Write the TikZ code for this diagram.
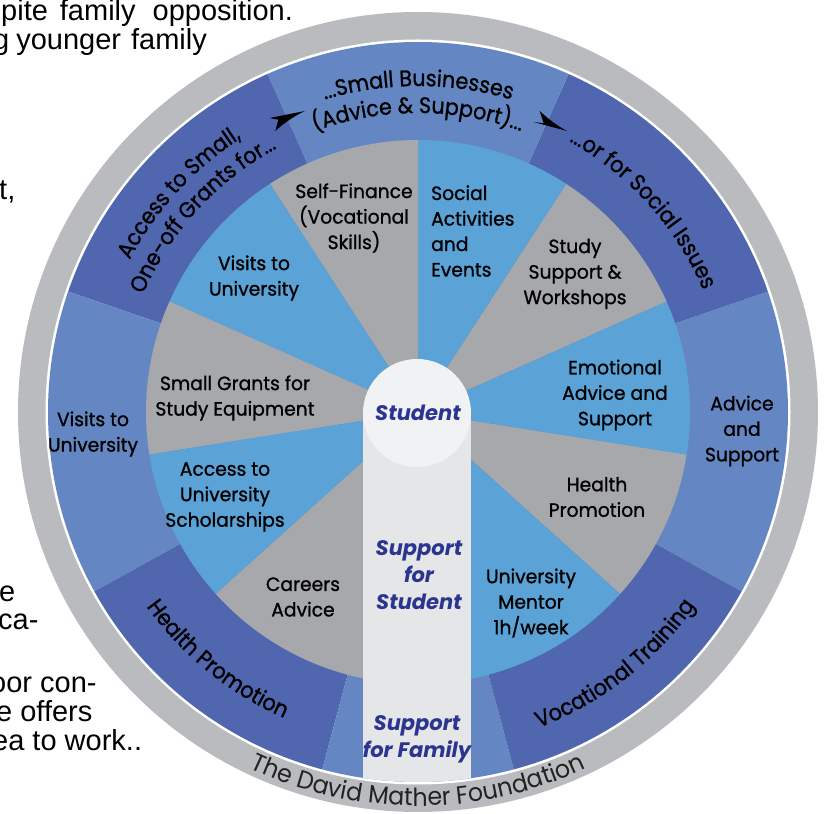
\documentclass[tikz,border=0pt]{standalone}
\usepackage{fontspec}
\setmainfont{Liberation Sans}
\newfontfamily\lbl{Poppins}[FakeBold=1,FakeStretch=0.97]
\newfontfamily\olf{Poppins}[FakeBold=1,FakeStretch=0.92]
\newfontfamily\hubf{Poppins}
\newfontfamily\fndf{Poppins}[FakeStretch=0.95]
\usetikzlibrary{decorations.text}
\definecolor{rimgrey}{HTML}{B9BBBE}
\definecolor{wedgeblue}{HTML}{5BA2D6}
\definecolor{wedgegrey}{HTML}{A6A8AB}
\definecolor{ringdark}{HTML}{5066AE}
\definecolor{ringmid}{HTML}{6487C3}
\definecolor{pillarc}{HTML}{E5E6E8}
\definecolor{hubc}{HTML}{F1F2F4}
\definecolor{navy}{HTML}{2B3590}
\newcommand\olbl{\olf\fontsize{22.5}{22.5}\selectfont}
\newcommand\flbl{\fndf\fontsize{25}{25}\selectfont}
\begin{document}
\begin{tikzpicture}[x=1pt,y=1pt,
  lab/.style={font=\lbl\fontsize{19.3}{25.5}\selectfont, align=center, text=black, inner sep=0pt},
  hublab/.style={font=\hubf\bfseries\itshape\fontsize{21}{27}\selectfont, align=center, text=navy, inner sep=0pt},
  para/.style={font=\fontsize{29}{33}\selectfont, anchor=base west, inner sep=0pt},
  curved/.style={decorate, decoration={text along path, text align=center, text={#1}}},
]
\useasboundingbox (0,0) rectangle (828,814);
% paragraph fragments behind the wheel
\node[para] (p1) at (1,793) {pite\hspace{12pt}family\hspace{17pt}opposition.};
\node[para] (p2) at (-7,764) {g\hspace{7pt}younger\hspace{10pt}family};
\node[para] (p3) at (-1,614) {t,};
\node[para] (p4) at (-1,212) {e};
\node[para] (p5) at (-2,184) {ca-};
\node[para] (p6) at (-10,121) {oor con-};
\node[para] (p7) at (-4,92) {e offers};
\node[para] (p8) at (-8,63) {ea to work..};

\begin{scope}[shift={(418,402)}]
  \fill[rimgrey] (0,0) circle[radius=400];
  \fill[white] (0,0) circle[radius=372.5];
  % outer ring segments
  \foreach \a/\b/\c in {-29/19/ringmid, 19/66/ringdark, 66/114/ringmid, 114/161/ringdark, 161/209/ringmid, 209/255/ringdark, 255/285/ringmid, 285/331/ringdark}
    \fill[\c] (0,0) -- (\a:370) arc[start angle=\a, end angle=\b, radius=370] -- cycle;
  % inner wedges
  \foreach \a/\b/\c in {-42/-9/wedgegrey, -9/24/wedgeblue, 24/57/wedgegrey, 57/90/wedgeblue, 90/123/wedgegrey, 123/156/wedgeblue, 156/189/wedgegrey, 189/222/wedgeblue, 222/270/wedgegrey, 270/318/wedgeblue}
    \fill[\c] (0,0) -- (\a:272) arc[start angle=\a, end angle=\b, radius=272] -- cycle;
  % pillar
  \begin{scope}
    \clip (0,0) circle[radius=370];
    \fill[pillarc] (-55,-1) rectangle (53,-380);
  \end{scope}
  \fill[hubc] (-1,-1) circle[radius=54];

  % curved ring labels
  \path[curved={|\olbl|Access to Small,}] (180:326) arc[start angle=180, end angle=95, radius=326];
  \path[curved={|\olbl|One-off Grants for...}] (180:299) arc[start angle=180, end angle=95, radius=299];
  \path[curved={|\olbl|...Small Businesses}] (135:326) arc[start angle=135, end angle=45, radius=326];
  \path[curved={|\olbl|(Advice {\&} Support)...}] (135:299) arc[start angle=135, end angle=45, radius=299];
  \path[curved={|\olbl|...or for Social Issues}] (87:310) arc[start angle=87, end angle=-3, radius=310];
  \path[curved={|\olbl|Health Promotion}] (192:334) arc[start angle=192, end angle=270, radius=334];
  \path[curved={|\olbl|Vocational Training}] (270:338) arc[start angle=270, end angle=346, radius=338];
  \path[curved={|\flbl\color[HTML]{222222}|The David Mather Foundation}] (215:394) arc[start angle=215, end angle=325, radius=394];
\end{scope}

% swoosh arrowheads
\begin{scope}[shift={(305,703)}, rotate=16]
  \fill[black] (0,0) -- (-36,3) -- (-28,-1) -- (-34,-11) .. controls (-22,-5) and (-10,-1.5) .. (0,0) -- cycle;
\end{scope}
\begin{scope}[shift={(567,683)}, rotate=-15]
  \fill[black] (0,0) -- (-34.5,0) -- (-24.6,1.5) -- (-31.6,12.3) .. controls (-20,6) and (-9,2) .. (0,0) -- cycle;
\end{scope}

% inner wedge labels
\node[lab] (sf) at (354,596) {Self-Finance\\(Vocational\\Skills)};
\node[lab, anchor=west, align=left] (sa) at (431,583) {Social\\Activities\\and\\Events};
\node[lab] (ss) at (575,540) {Study\\Support \&\\Workshops};
\node[lab] (vu) at (254,536) {Visits to\\University};
\node[lab] (sg) at (235,416) {Small Grants for\\Study Equipment};
\node[lab] (ea) at (615,419) {Emotional\\Advice and\\Support};
\node[lab] (au) at (225,317) {Access to\\University\\Scholarships};
\node[lab] (hp) at (597,317) {Health\\Promotion};
\node[lab] (ca) at (303,217) {Careers\\Advice};
\node[lab] (um) at (531,211) {University\\Mentor\\1h/week};
% outer horizontal labels
\node[lab] (vo) at (93,380) {Visits to\\University};
\node[lab] (as) at (742,383) {Advice\\and\\Support};
% hub labels
\node[hublab] (st) at (418,401) {Student};
\node[hublab] (sfs) at (419,239) {Support\\for\\Student};
\node[hublab] (sff) at (417,75) {Support\\for Family};
\end{tikzpicture}
\end{document}
